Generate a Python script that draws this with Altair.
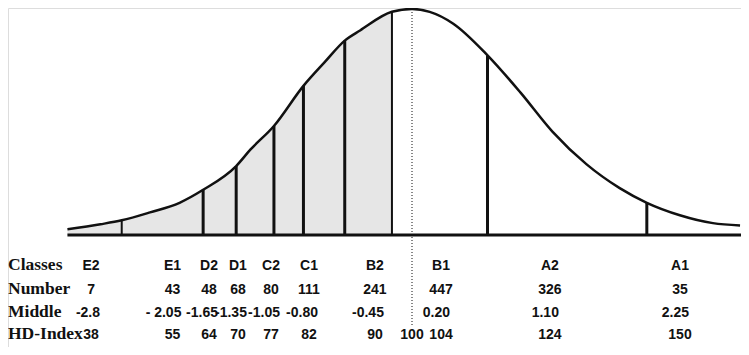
import altair as alt
import pandas as pd

# ---- data ----
# bell curve (x in standard-score units, y in relative density)
curve_z = [-2.92, -2.64, -2.46, -2.22, -1.97, -1.77, -1.49, -1.37, -1.17, -0.92, -0.74,
           -0.57, -0.44, -0.17, 0.00, 0.15, 0.35, 0.64, 0.92, 1.19, 1.48, 1.76, 1.99,
           2.27, 2.55, 2.78]
curve_h = [0.010, 0.019, 0.026, 0.040, 0.057, 0.080, 0.122, 0.151, 0.193, 0.264, 0.306,
           0.344, 0.362, 0.395, 0.400, 0.395, 0.374, 0.318, 0.252, 0.183, 0.125, 0.083,
           0.057, 0.035, 0.021, 0.017]

# class boundaries
boundary_z = [-2.46, -1.77, -1.49, -1.17, -0.92, -0.57, -0.17, 0.64, 1.99]
boundary_h = [0.026, 0.080, 0.122, 0.193, 0.264, 0.344, 0.395, 0.318, 0.057]
boundary_w = [2, 3, 3, 3, 3, 3, 2, 3, 3]

shade_end = -0.17
mean_z = 0.0

# table
classes = ["E2", "E1", "D2", "D1", "C2", "C1", "B2", "B1", "A2", "A1"]
numbers = ["7", "43", "48", "68", "80", "111", "241", "447", "326", "35"]
middles = ["-2.8", "- 2.05", "-1.65", "-1.35", "-1.05", "-0.80", "-0.45", "0.20", "1.10", "2.25"]
hd_index = ["38", "55", "64", "70", "77", "82", "90", "104", "124", "150"]
column_z = [-2.72, -2.03, -1.72, -1.475, -1.195, -0.873, -0.314, 0.246, 1.169, 2.271]
row_labels = ["Classes", "Number", "Middle", "HD-Index"]
mean_label = "100"

# ---- frames ----
curve = pd.DataFrame({"z": curve_z, "h": curve_h})
shade = curve[curve["z"] <= shade_end]
bounds = pd.DataFrame({"z": boundary_z, "h": boundary_h, "h0": 0.0, "w": boundary_w})
base = pd.DataFrame({"z": [min(curve_z)], "z2": [2.80], "h0": [0.0]})
meanline = pd.DataFrame({"z": [mean_z], "top": [max(curve_h)], "bottom": [-0.161]})
table = pd.DataFrame({"z": column_z, "Classes": classes, "Number": numbers,
                      "Middle": middles, "HD": hd_index})
mean_df = pd.DataFrame({"z": [mean_z], "t": [mean_label]})

xs = alt.Scale(domain=[-3.4237, 2.7881], nice=False, zero=False)
ys = alt.Scale(domain=[-0.19823, 0.40177], nice=False, zero=False)


def X(f):
    return alt.X(f, type="quantitative", scale=xs, axis=None)


def Y(f):
    return alt.Y(f, type="quantitative", scale=ys, axis=None)


area = alt.Chart(shade).mark_area(color="#e6e6e6", interpolate="monotone").encode(
    x=X("z"), y=Y("h"))

line = alt.Chart(curve).mark_line(color="#111111", strokeWidth=2.5,
                                  interpolate="monotone").encode(x=X("z"), y=Y("h"))

baseline = alt.Chart(base).mark_rule(color="#111111", strokeWidth=3).encode(
    x=X("z"), x2="z2", y=Y("h0"))

brules = alt.Chart(bounds).mark_rule(color="#111111").encode(
    x=X("z"), y=Y("h"), y2="h0",
    strokeWidth=alt.StrokeWidth("w:Q", scale=None, legend=None))

dotted = alt.Chart(meanline).mark_rule(color="#111111", strokeWidth=1,
                                       strokeDash=[1, 2]).encode(
    x=X("z"), y=Y("top"), y2="bottom")

num_font = "Liberation Sans"
num_size = 14
row_y = {"Classes": 262, "Number": 286, "Middle": 309, "HD": 331}

text_layers = []
for col in ["Classes", "Number", "HD"]:
    text_layers.append(
        alt.Chart(table).mark_text(font=num_font, fontWeight="bold", fontSize=num_size,
                                   align="center", baseline="alphabetic",
                                   color="#111111").encode(
            x=X("z"), y=alt.value(row_y[col]), text=f"{col}:N"))
text_layers.append(
    alt.Chart(table).mark_text(font=num_font, fontWeight="bold", fontSize=num_size,
                               align="right", dx=9, baseline="alphabetic",
                               color="#111111").encode(
        x=X("z"), y=alt.value(row_y["Middle"]), text="Middle:N"))
text_layers.append(
    alt.Chart(mean_df).mark_text(font=num_font, fontWeight="bold", fontSize=num_size,
                                 align="center", baseline="alphabetic",
                                 color="#111111").encode(
        x=X("z"), y=alt.value(row_y["HD"]), text="t:N"))

label_layers = []
for lab, key in zip(row_labels, ["Classes", "Number", "Middle", "HD"]):
    label_layers.append(
        alt.Chart(pd.DataFrame({"t": [lab]})).mark_text(
            font="Liberation Serif", fontWeight="bold", fontSize=17.5, align="left",
            baseline="alphabetic", color="#111111").encode(
            x=alt.value(0), y=alt.value(row_y[key]), text="t:N"))

chart = alt.layer(area, line, baseline, brules, dotted, *text_layers, *label_layers).properties(
    width=733, height=339, padding=0, autosize=alt.AutoSizeParams(type="none")
).configure_view(stroke=None).configure(background="white")

chart.save("out.html", embed_options={"renderer": "svg", "actions": False})
